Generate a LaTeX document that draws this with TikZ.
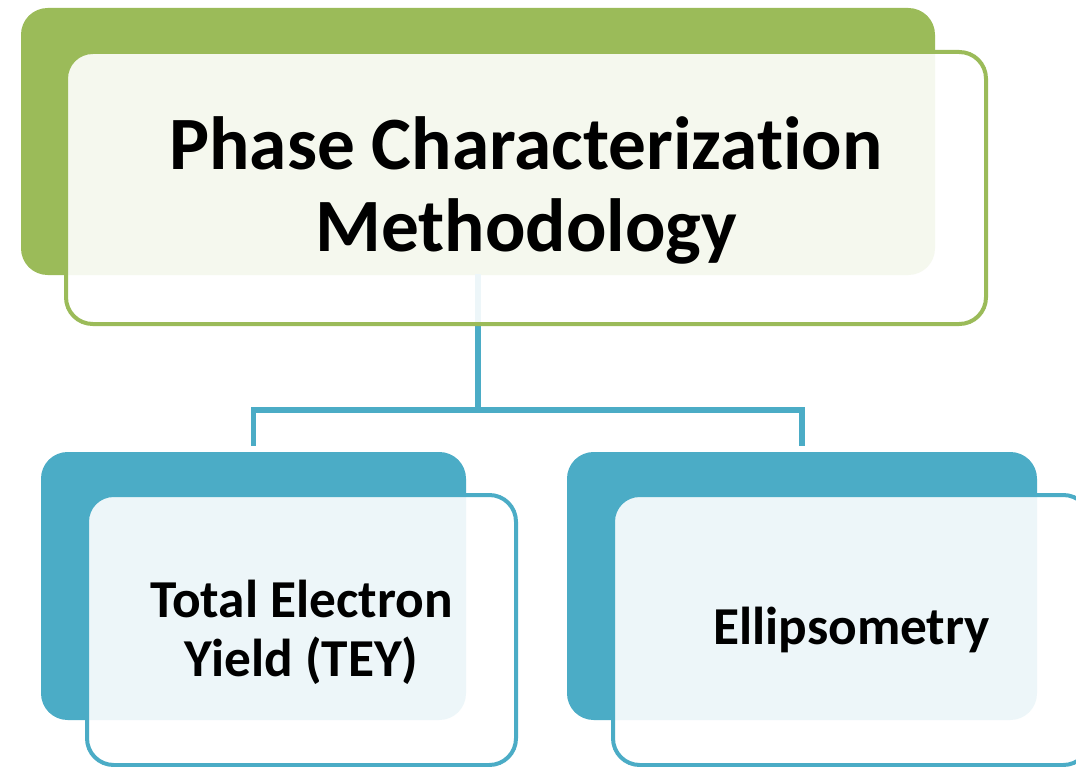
\documentclass[tikz,border=0pt]{standalone}
\usepackage{fontspec}
\setmainfont{Carlito}[Ligatures={NoCommon}]
\definecolor{sgreen}{HTML}{9BBB59}
\definecolor{sblue}{HTML}{4BACC6}
\begin{document}
\begin{tikzpicture}[x=0.75pt,y=-0.75pt,
  backbox/.style={rounded corners=20pt, inner sep=0pt, draw=none},
  frontbox/.style={rounded corners=20pt, inner sep=0pt, line width=3pt, fill=white, fill opacity=0.9, text opacity=1, align=center, font=\bfseries},
  conn/.style={draw=sblue, line width=3.8pt, line join=miter},
  toptext/.style={font=\fontsize{56.5}{61.5}\selectfont\bfseries},
  childtext/.style={font=\fontsize{40}{44.5}\selectfont\bfseries}]
\useasboundingbox (0,0) rectangle (1076,767);
\clip (0,0) rectangle (1076,767);
\fill[white] (0,0) rectangle (1076,767);
% back boxes
\node[backbox, fill=sgreen, minimum width=914*0.75pt, minimum height=267*0.75pt] (tb) at (478,141.5) {};
\node[backbox, fill=sblue, minimum width=425*0.75pt, minimum height=268*0.75pt] (lb) at (253.5,586) {};
\node[backbox, fill=sblue, minimum width=470*0.75pt, minimum height=268*0.75pt] (rb) at (802,586) {};
% connectors
\coordinate (j) at (478,410);
\draw[conn, shorten <=-1pt] (tb.south) -- (j);
\draw[conn, shorten <=4.5pt, shorten >=4.5pt] (lb.north) |- (j) -| (rb.north);
% front boxes
\node[frontbox, draw=sgreen, minimum width=920*0.75pt, minimum height=272*0.75pt] (tf) at (526,188) {};
\node[toptext, align=center] (tt) at (526,190) {Phase Characterization\\Methodology};
\node[frontbox, draw=sblue, minimum width=429*0.75pt, minimum height=270*0.75pt] (lf) at (301.5,630) {};
\node[childtext, align=center] (lt) at (301.5,632) {Total Electron\\Yield (TEY)};
\node[frontbox, draw=sblue, minimum width=477*0.75pt, minimum height=270*0.75pt] (rf) at (851.5,630) {};
\node[childtext, align=center] (rt) at (851.5,630) {Ellipsometry};
\end{tikzpicture}
\end{document}
